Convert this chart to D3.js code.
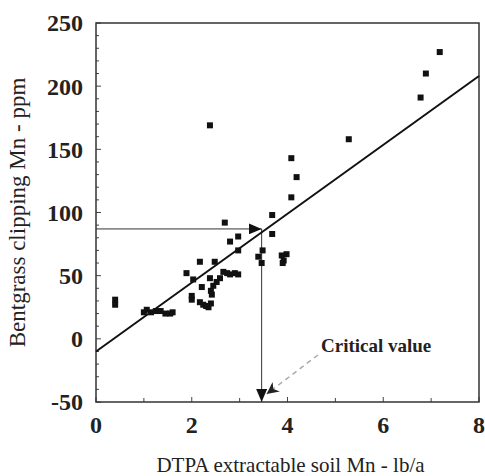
<!DOCTYPE html>
<html>
<head>
<meta charset="utf-8">
<script src="https://cdn.jsdelivr.net/npm/d3@7"></script>
<style>
  body { margin: 0; background: #fff; }
  svg { display: block; }
</style>
</head>
<body>
<div id="chart"></div>
<script>
// soil Mn (lb/a)
const soilMn = [
  0.40, 0.40,
  1.00, 1.06, 1.15, 1.25, 1.35, 1.45, 1.55, 1.60,
  1.89, 2.00, 2.00, 2.03, 2.17, 2.21, 2.17, 2.24, 2.30, 2.35, 2.38,
  2.38, 2.40, 2.42, 2.45, 2.40, 2.48, 2.59, 2.52,
  2.69, 2.66, 2.74, 2.80, 2.80, 2.90, 2.97, 2.97, 2.97,
  3.39, 3.46, 3.48, 3.68, 3.68, 3.88, 3.92, 3.90, 3.98,
  4.08, 4.19, 4.08, 5.28, 6.78, 6.89, 7.18
];
// clipping Mn (ppm)
const clipMn = [
  31, 27,
  21, 23, 21, 22, 22, 20, 20, 21,
  52, 34, 31, 47, 61, 41, 29, 27, 26, 25, 169,
  48, 38, 35, 42, 28, 61, 48, 45,
  92, 53, 52, 77, 51, 52, 51, 81, 70,
  65, 60, 70, 98, 83, 66, 62, 60, 67,
  143, 128, 112, 158, 191, 210, 227
];
// regression line end points
const fitX = [0, 8];
const fitY = [-10, 208];
const criticalX = 3.46;
const criticalY = 87;
const xTicks = [0, 2, 4, 6, 8];
const yTicks = [-50, 0, 50, 100, 150, 200, 250];

const W = 485, H = 476;
const margin = { top: 23, right: 6, bottom: 74, left: 96 };
const iw = W - margin.left - margin.right;
const ih = H - margin.top - margin.bottom;

const svg = d3.select("#chart").append("svg")
  .attr("width", W).attr("height", H);

const x = d3.scaleLinear().domain([0, 8]).range([margin.left, margin.left + iw]);
const y = d3.scaleLinear().domain([-50, 250]).range([margin.top + ih, margin.top]);

const serif = "'Liberation Serif', 'Times New Roman', serif";

// inward minor ticks
const tk = svg.append("g").attr("stroke", "#444").attr("stroke-width", 1);
d3.range(0, 8.01, 1).forEach(v => {
  tk.append("line").attr("x1", x(v)).attr("x2", x(v))
    .attr("y1", y(-50)).attr("y2", y(-50) - (v % 2 === 0 ? 5 : 4));
});
d3.range(-50, 250.1, 10).forEach(v => {
  tk.append("line").attr("y1", y(v)).attr("y2", y(v))
    .attr("x1", x(0)).attr("x2", x(0) + (v % 50 === 0 ? 5 : 3));
});

// frame
svg.append("rect")
  .attr("x", x(0)).attr("y", y(250))
  .attr("width", x(8) - x(0)).attr("height", y(-50) - y(250))
  .attr("fill", "none").attr("stroke", "#333").attr("stroke-width", 1.5);

// tick labels
svg.append("g").selectAll("text").data(xTicks).join("text")
  .attr("x", d => x(d)).attr("y", y(-50) + 31)
  .attr("text-anchor", "middle")
  .style("font-family", serif).style("font-weight", "bold").style("font-size", "24px")
  .attr("fill", "#222")
  .text(d => d);

svg.append("g").selectAll("text").data(yTicks).join("text")
  .attr("x", x(0) - 13).attr("y", d => y(d)).attr("dy", "0.35em")
  .attr("text-anchor", "end")
  .style("font-family", serif).style("font-weight", "bold").style("font-size", "24px")
  .attr("fill", "#222")
  .text(d => d);

// axis titles
svg.append("text")
  .attr("x", (x(0) + x(8)) / 2 + 3).attr("y", 472)
  .attr("text-anchor", "middle")
  .style("font-family", serif).style("font-size", "21px").attr("fill", "#222")
  .text("DTPA extractable soil Mn - lb/a");

svg.append("text")
  .attr("transform", `translate(25,${(y(-50) + y(250)) / 2}) rotate(-90)`)
  .attr("text-anchor", "middle")
  .style("font-family", serif).style("font-size", "23px").attr("fill", "#222")
  .text("Bentgrass clipping Mn - ppm");

// arrow markers
const defs = svg.append("defs");
defs.append("marker").attr("id", "tri")
  .attr("viewBox", "0 0 10 10").attr("refX", 10).attr("refY", 5)
  .attr("markerWidth", 13).attr("markerHeight", 11).attr("markerUnits", "userSpaceOnUse")
  .attr("orient", "auto").attr("preserveAspectRatio", "none")
  .append("path").attr("d", "M0,0L10,5L0,10Z").attr("fill", "#111");
defs.append("marker").attr("id", "tri2")
  .attr("viewBox", "0 0 10 10").attr("refX", 10).attr("refY", 5)
  .attr("markerWidth", 13).attr("markerHeight", 12).attr("markerUnits", "userSpaceOnUse")
  .attr("orient", "auto")
  .append("path").attr("d", "M0,0L10,5L0,10L3,5Z").attr("fill", "#222");

// critical value guide lines
svg.append("line")
  .attr("x1", x(0)).attr("y1", y(criticalY))
  .attr("x2", x(criticalX)).attr("y2", y(criticalY))
  .attr("stroke", "#333").attr("stroke-width", 1)
  .attr("marker-end", "url(#tri)");
svg.append("line")
  .attr("x1", x(criticalX)).attr("y1", y(criticalY))
  .attr("x2", x(criticalX)).attr("y2", y(-50))
  .attr("stroke", "#333").attr("stroke-width", 1)
  .attr("marker-end", "url(#tri)");

// points
svg.append("g").selectAll("rect")
  .data(soilMn.map((v, i) => [v, clipMn[i]]))
  .join("rect")
  .attr("x", d => x(d[0]) - 3).attr("y", d => y(d[1]) - 3)
  .attr("width", 6).attr("height", 6)
  .attr("fill", "#111");

// regression line
svg.append("line")
  .attr("x1", x(fitX[0])).attr("y1", y(fitY[0]))
  .attr("x2", x(fitX[1])).attr("y2", y(fitY[1]))
  .attr("stroke", "#111").attr("stroke-width", 2);

// critical value annotation
svg.append("text")
  .attr("x", 321).attr("y", 352)
  .style("font-family", serif).style("font-weight", "bold").style("font-size", "19px")
  .attr("fill", "#222")
  .text("Critical value");
svg.append("line")
  .attr("x1", 318).attr("y1", 355)
  .attr("x2", x(criticalX) + 5).attr("y2", y(-50) - 8)
  .attr("stroke", "#aaa").attr("stroke-width", 1.5)
  .attr("stroke-dasharray", "5,4")
  .attr("marker-end", "url(#tri2)");
</script>
</body>
</html>
